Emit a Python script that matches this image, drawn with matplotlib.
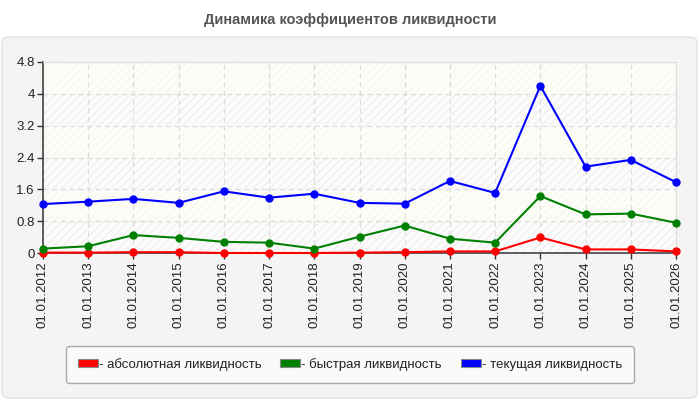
import matplotlib.pyplot as plt
from matplotlib.patches import FancyBboxPatch, Patch

dates = ["01.01.2012", "01.01.2013", "01.01.2014", "01.01.2015", "01.01.2016",
         "01.01.2017", "01.01.2018", "01.01.2019", "01.01.2020", "01.01.2021",
         "01.01.2022", "01.01.2023", "01.01.2024", "01.01.2025", "01.01.2026"]
absolute = [0.01, 0.01, 0.02, 0.02, 0.0, 0.0, 0.0, 0.01, 0.02, 0.04,
            0.04, 0.39, 0.09, 0.09, 0.04]
quick = [0.11, 0.17, 0.45, 0.38, 0.28, 0.26, 0.11, 0.41, 0.69, 0.36,
         0.26, 1.43, 0.97, 0.99, 0.76]
current = [1.23, 1.29, 1.36, 1.26, 1.55, 1.39, 1.49, 1.26, 1.24, 1.81,
           1.51, 4.20, 2.17, 2.34, 1.78]
yticks = [0, 0.8, 1.6, 2.4, 3.2, 4, 4.8]
ytick_labels = ["0", "0.8", "1.6", "2.4", "3.2", "4", "4.8"]

series = [
    ("- абсолютная ликвидность", absolute, "#ff0000"),
    ("- быстрая ликвидность", quick, "#008000"),
    ("- текущая ликвидность", current, "#0000ff"),
]

plt.rcParams['font.family'] = ['Liberation Sans', 'DejaVu Sans']
plt.rcParams['hatch.linewidth'] = 0.5

fig = plt.figure(figsize=(7, 4), dpi=100)
fig.patch.set_facecolor('white')

# grey rounded panel behind the chart
panel = FancyBboxPatch((2 / 700, 2 / 400), 695 / 700, 361 / 400,
                       boxstyle="round,pad=0,rounding_size=0.012",
                       transform=fig.transFigure, facecolor='#f4f4f4',
                       edgecolor='#e2e2e2', linewidth=1, zorder=-5)
fig.patches.append(panel)

fig.text(0.5, 0.95, "Динамика коэффициентов ликвидности", ha='center', va='center',
         fontsize=10.5, fontweight='bold', color='#555555')

ax = fig.add_axes([43 / 700, 147 / 400, 633 / 700, 191 / 400])
ax.set_facecolor('#fdfdf7')
x = list(range(len(dates)))

# striped background bands
for i in range(len(yticks) - 1):
    if i % 2 == 0:
        ax.axhspan(yticks[i], yticks[i + 1], facecolor='#fbfbfb', edgecolor='#e6e6e6',
                   hatch='////', linewidth=0, zorder=0)
    else:
        ax.axhspan(yticks[i], yticks[i + 1], facecolor='#fdfdf7', edgecolor='#f4f4ee',
                   hatch='////', linewidth=0, zorder=0)

ax.grid(True, color='#dcdcdc', linestyle=(0, (4, 3)), linewidth=0.9, zorder=1)
ax.set_axisbelow(True)

for label, vals, color in series:
    ax.plot(x, vals, color=color, linewidth=1.5, marker='o', markersize=5,
            clip_on=False, zorder=3)

ax.set_xlim(0, len(dates) - 1)
ax.set_ylim(0, 4.8)
ax.set_xticks(x)
ax.set_xticklabels(dates, rotation=90, fontsize=9.5, color='#222222')
ax.set_yticks(yticks)
ax.set_yticklabels(ytick_labels, fontsize=9.5, color='#222222')
ax.tick_params(length=4, width=1, color='#333333', pad=2)

for side in ['top', 'right']:
    ax.spines[side].set_color('#dddddd')
for side in ['left', 'bottom']:
    ax.spines[side].set_color('#333333')
    ax.spines[side].set_linewidth(1.1)

handles = [Patch(facecolor=c, edgecolor='#888888', linewidth=0.8, label=l)
           for l, _, c in series]
leg = fig.legend(handles=handles, ncol=3, loc='lower left',
                 bbox_to_anchor=(66 / 700, 17 / 400, 568 / 700, 38 / 400),
                 mode='expand', fontsize=9.5, frameon=True, fancybox=True,
                 handlelength=1.5, handleheight=0.55, handletextpad=0.1,
                 borderaxespad=0, borderpad=0.9, columnspacing=1.5)
leg.get_frame().set_facecolor('#fafafa')
leg.get_frame().set_edgecolor('#aaaaaa')
leg.get_frame().set_alpha(1)
for t in leg.get_texts():
    t.set_color('#222222')

fig.savefig('out.png', dpi=100)
